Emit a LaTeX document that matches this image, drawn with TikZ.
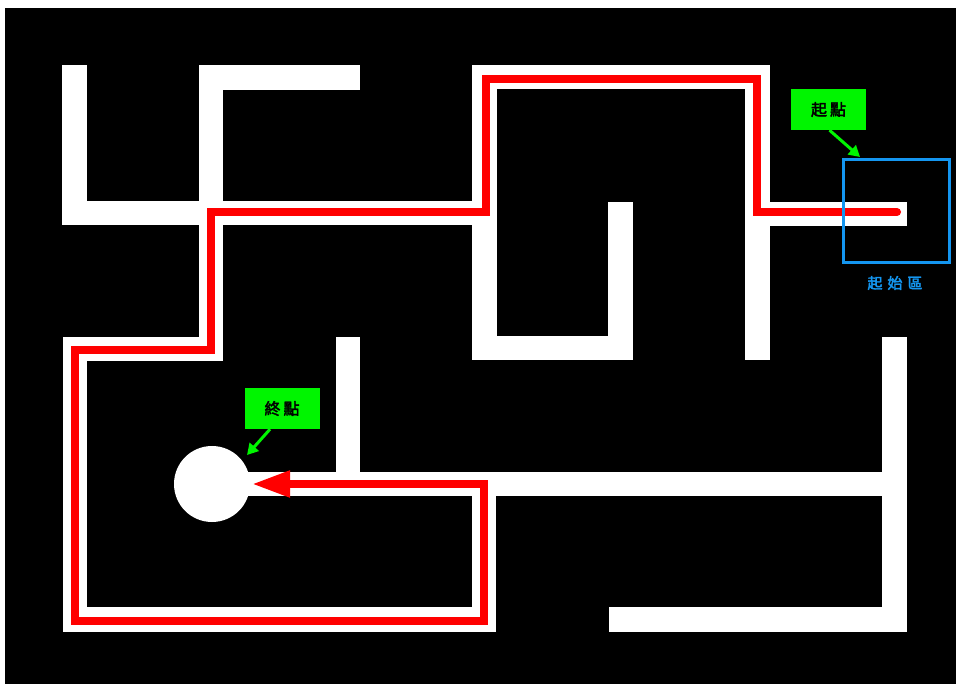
\documentclass[tikz,border=0pt]{standalone}
\usepackage{fontspec}
\newfontfamily\cjk[FakeBold=2.5]{Noto Sans CJK TC}
\usetikzlibrary{arrows.meta}
\definecolor{lblgreen}{RGB}{0,245,0}
\definecolor{zoneblue}{RGB}{20,150,240}
\definecolor{pathred}{RGB}{255,0,0}
\begin{document}
\begin{tikzpicture}[x=1pt,y=-1pt,
  wall/.style={fill=white},
  lbl/.style={fill=lblgreen, inner sep=0pt, minimum width=75pt, minimum height=41pt, font=\cjk\fontsize{16}{16}\selectfont, text=black},
  garrow/.style={draw=lblgreen, line width=3pt, -{Triangle[length=11pt,width=12pt]}},
  route/.style={draw=pathred, line width=8pt, line join=miter, -{Triangle[length=38pt,width=25pt]}}
]
\useasboundingbox (0,0) rectangle (956,684);
\fill[white] (0,0) rectangle (956,684);
\fill[black] (5,8) rectangle (956,684);
% walls
\fill[wall] (62,65) rectangle (87,225);
\fill[wall] (62,201) rectangle (497,225);
\fill[wall] (199,65) rectangle (223,361);
\fill[wall] (199,65) rectangle (360,90);
\fill[wall] (472,65) rectangle (497,360);
\fill[wall] (472,65) rectangle (770,89);
\fill[wall] (745,65) rectangle (770,360);
\fill[wall] (472,336) rectangle (633,360);
\fill[wall] (608,202) rectangle (633,360);
\fill[wall] (745,202) rectangle (907,226);
\fill[wall] (63,337) rectangle (223,361);
\fill[wall] (63,337) rectangle (87,632);
\fill[wall] (63,607) rectangle (496,632);
\fill[wall] (472,472) rectangle (496,632);
\fill[wall] (212,472) rectangle (907,496);
\fill[wall] (336,337) rectangle (360,496);
\fill[wall] (882,337) rectangle (907,632);
\fill[wall] (609,607) rectangle (907,632);
% goal circle
\node[circle, fill=white, minimum size=76pt, inner sep=0pt] (goal) at (212,484) {};
% red route
\coordinate (rstart) at (897,212);
\coordinate (rend) at (252,484);
\draw[route] (rstart) -- (757,212) -- (757,79) -- (486,79) -- (486,212) -- (211,212) -- (211,350) -- (75,350) -- (75,621) -- (484,621) -- (484,484) -- (rend);
\fill[pathred] (rstart) circle (4pt);
% start zone
\node[draw=zoneblue, line width=3pt, minimum width=106pt, minimum height=103pt, inner sep=0pt] (zone) at (896.5,211) {};
\node[text=zoneblue, font=\cjk\fontsize{15}{15}\selectfont, inner sep=0pt] (zonelbl) at (895,283) {起\hspace{5pt}始\hspace{5pt}區};
% labels
\node[lbl] (startlbl) at (828.5,109.5) {起\hspace{3pt}點};
\coordinate (startpt) at (860,157);
\draw[garrow] ([xshift=1pt]startlbl.south) -- (startpt);
\node[lbl] (endlbl) at (282,408.5) {終\hspace{3pt}點};
\coordinate (endpt) at (247,455);
\draw[garrow] ([xshift=-12pt]endlbl.south) -- (endpt);
\end{tikzpicture}
\end{document}
